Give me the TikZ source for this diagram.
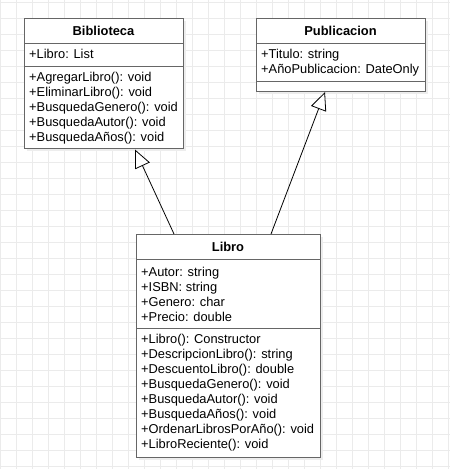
\documentclass[tikz,border=0pt]{standalone}
\usepackage{fontspec}
\setmainfont{Liberation Sans}
\usetikzlibrary{arrows.meta,calc}
\definecolor{gridc}{HTML}{EBEBEB}
\definecolor{boxc}{HTML}{666666}
\definecolor{shadowc}{HTML}{EDEDED}
\tikzset{
  umlbox/.style={draw=boxc, line width=1pt, fill=white, anchor=north west, inner sep=0pt, outer sep=0pt},
  shadowbox/.style={fill=shadowc, draw=none, anchor=north west, inner sep=0pt},
  sepline/.style={draw=boxc, line width=1pt},
  ttl/.style={anchor=base, inner sep=0pt, font=\fontsize{12.9}{15}\selectfont\bfseries},
  mbr/.style={anchor=base west, inner sep=0pt, font=\fontsize{12.85}{15}\selectfont},
  inh/.style={draw=black, line width=0.8pt, -{Triangle[length=18pt,width=16pt,fill=white]}}
}
\begin{document}
\begin{tikzpicture}[x=1pt,y=-1pt]
\useasboundingbox (0,0) rectangle (450,469);
\fill[white] (0,0) rectangle (450,469);
% grid
\foreach \gx in {0,16,...,448} \draw[gridc, line width=1pt] (\gx,0) -- (\gx,469);
\foreach \gy in {2,18,...,466} \draw[gridc, line width=1pt] (0,\gy) -- (450,\gy);

% shadows
\node[shadowbox, minimum width=159pt, minimum height=130pt] (bibs) at (27,21) {};
\node[shadowbox, minimum width=169pt, minimum height=73pt] (pubs) at (259,21) {};
\node[shadowbox, minimum width=184pt, minimum height=223pt] (libs) at (139,237) {};

% Biblioteca
\node[umlbox, minimum width=159pt, minimum height=130pt] (bib) at (24,18) {};
\draw[sepline] (24,43) -- (183,43);
\draw[sepline] (24,66) -- (183,66);
\node[ttl] (bibt) at (103.5,35) {Biblioteca};
\node[mbr] (bib1) at (29,58) {+Libro: List};
\node[mbr] (bib2) at (29,81.5) {+AgregarLibro(): void};
\node[mbr] (bib3) at (29,96.5) {+EliminarLibro(): void};
\node[mbr] (bib4) at (29,111.5) {+BusquedaGenero(): void};
\node[mbr] (bib5) at (29,126.5) {+BusquedaAutor(): void};
\node[mbr] (bib6) at (29,141.5) {+BusquedaAños(): void};

% Publicacion
\node[umlbox, minimum width=169pt, minimum height=73pt] (pub) at (256,18) {};
\draw[sepline] (256,43) -- (425,43);
\draw[sepline] (256,81) -- (425,81);
\node[ttl] (pubt) at (340.5,35) {Publicacion};
\node[mbr] (pub1) at (261,58.3) {+Titulo: string};
\node[mbr] (pub2) at (261,73.3) {+AñoPublicacion: DateOnly};

% Libro
\node[umlbox, minimum width=184pt, minimum height=223pt] (lib) at (136,234) {};
\draw[sepline] (136,259) -- (320,259);
\draw[sepline] (136,328) -- (320,328);
\node[ttl] (libt) at (228,251.7) {Libro};
\node[mbr] (lib1) at (141,276) {+Autor: string};
\node[mbr] (lib2) at (141,291) {+ISBN: string};
\node[mbr] (lib3) at (141,306) {+Genero: char};
\node[mbr] (lib4) at (141,321) {+Precio: double};
\node[mbr] (lib5) at (141,343.3) {+Libro(): Constructor};
\node[mbr] (lib6) at (141,358.3) {+DescripcionLibro(): string};
\node[mbr] (lib7) at (141,373.3) {+DescuentoLibro(): double};
\node[mbr] (lib8) at (141,388.3) {+BusquedaGenero(): void};
\node[mbr] (lib9) at (141,403.3) {+BusquedaAutor(): void};
\node[mbr] (lib10) at (141,418.3) {+BusquedaAños(): void};
\node[mbr] (lib11) at (141,433.3) {+OrdenarLibrosPorAño(): void};
\node[mbr] (lib12) at (141,448.3) {+LibroReciente(): void};

% inheritance
\draw[inh] ($(lib.north west)+(38,0)$) -- ($(bib.south west)+(111,1.5)$);
\draw[inh] ($(lib.north west)+(135,0)$) -- ($(pub.south west)+(69,1)$);
\end{tikzpicture}
\end{document}
